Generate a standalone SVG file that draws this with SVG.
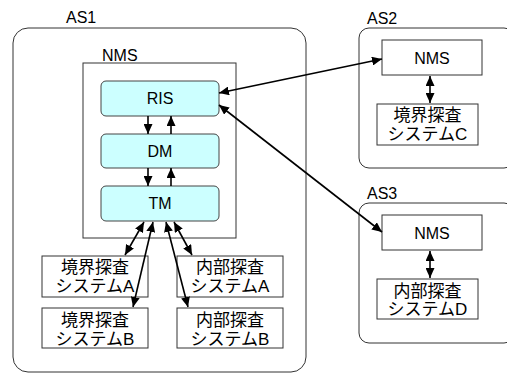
<svg xmlns="http://www.w3.org/2000/svg" width="507" height="381" viewBox="0 0 507 381">
<defs>
<marker id="ah" viewBox="0 0 10 9" refX="10" refY="4.5" markerWidth="10" markerHeight="9" markerUnits="userSpaceOnUse" orient="auto-start-reverse">
<path d="M0,0 L10,4.5 L0,9 z" fill="#000"/>
</marker>
<style>
.as{fill:#fff;stroke:#333;stroke-width:1}
.box{fill:#fff;stroke:#333;stroke-width:1}
.mod{fill:#ccffff;stroke:#444;stroke-width:1}
.t{font-family:"Liberation Sans",Arial,sans-serif;font-size:16px;fill:#000}
.j{font-family:"Liberation Sans","Noto Sans CJK JP",sans-serif;font-size:17px;fill:#000;text-anchor:middle}
.c{text-anchor:middle}
.l{stroke:#000;stroke-width:1.6;fill:none}
.a1{marker-end:url(#ah)}
.a2{marker-start:url(#ah);marker-end:url(#ah)}
</style>
</defs>
<rect width="507" height="381" fill="#fff"/>

<g id="as1">
<rect class="as" x="13" y="28" width="293" height="344" rx="15"/>
<text class="t" x="66" y="23">AS1</text>
</g>
<g id="nms1">
<rect class="box" x="83" y="63" width="153" height="175"/>
<text class="t" x="102" y="61">NMS</text>
</g>
<g id="ris">
<rect class="mod" x="101" y="81" width="118" height="35" rx="5"/>
<text class="t c" x="160" y="104">RIS</text>
</g>
<g id="dm">
<rect class="mod" x="101" y="134" width="118" height="34" rx="5"/>
<text class="t c" x="160" y="157">DM</text>
</g>
<g id="tm">
<rect class="mod" x="101" y="186" width="118" height="35" rx="5"/>
<text class="t c" x="160" y="209">TM</text>
</g>
<g id="kyokaiA">
<rect class="box" x="42" y="256" width="106" height="41"/>
<text class="j" x="95" y="273">境界探査</text>
<text class="j" x="95" y="292">システムA</text>
</g>
<g id="kyokaiB">
<rect class="box" x="42" y="308" width="106" height="40"/>
<text class="j" x="95" y="326">境界探査</text>
<text class="j" x="95" y="345">システムB</text>
</g>
<g id="naibuA">
<rect class="box" x="177" y="256" width="106" height="41"/>
<text class="j" x="230" y="273">内部探査</text>
<text class="j" x="230" y="292">システムA</text>
</g>
<g id="naibuB">
<rect class="box" x="177" y="308" width="106" height="40"/>
<text class="j" x="230" y="326">内部探査</text>
<text class="j" x="230" y="345">システムB</text>
</g>

<g id="as2">
<rect class="as" x="359" y="28" width="155" height="140" rx="10"/>
<text class="t" x="367" y="24">AS2</text>
</g>
<g id="nms2">
<rect class="box" x="382" y="40" width="100" height="35"/>
<text class="t c" x="432" y="64">NMS</text>
</g>
<g id="kyokaiC">
<rect class="box" x="377" y="104" width="101" height="41"/>
<text class="j" x="427.5" y="121">境界探査</text>
<text class="j" x="427.5" y="140">システムC</text>
</g>

<g id="as3">
<rect class="as" x="359" y="203" width="155" height="140" rx="10"/>
<text class="t" x="367" y="199">AS3</text>
</g>
<g id="nms3">
<rect class="box" x="382" y="215" width="100" height="35"/>
<text class="t c" x="432" y="239">NMS</text>
</g>
<g id="naibuD">
<rect class="box" x="377" y="279" width="101" height="40"/>
<text class="j" x="427.5" y="297">内部探査</text>
<text class="j" x="427.5" y="315">システムD</text>
</g>

<g id="connectors">
<line class="l a1" x1="148" y1="116" x2="148" y2="134"/>
<line class="l a1" x1="171" y1="134" x2="171" y2="116"/>
<line class="l a1" x1="148" y1="168" x2="148" y2="186"/>
<line class="l a1" x1="171" y1="186" x2="171" y2="168"/>
<line class="l a2" x1="144" y1="222" x2="125" y2="255"/>
<line class="l a2" x1="153" y1="222" x2="133" y2="307"/>
<line class="l a2" x1="166" y1="222" x2="188" y2="307"/>
<line class="l a2" x1="174" y1="222" x2="192" y2="255"/>
<line class="l a2" x1="219" y1="93" x2="382" y2="59"/>
<line class="l a2" x1="219" y1="105" x2="382" y2="232"/>
<line class="l a2" x1="430" y1="76" x2="430" y2="103"/>
<line class="l a2" x1="430" y1="251" x2="430" y2="278"/>
</g>
</svg>
